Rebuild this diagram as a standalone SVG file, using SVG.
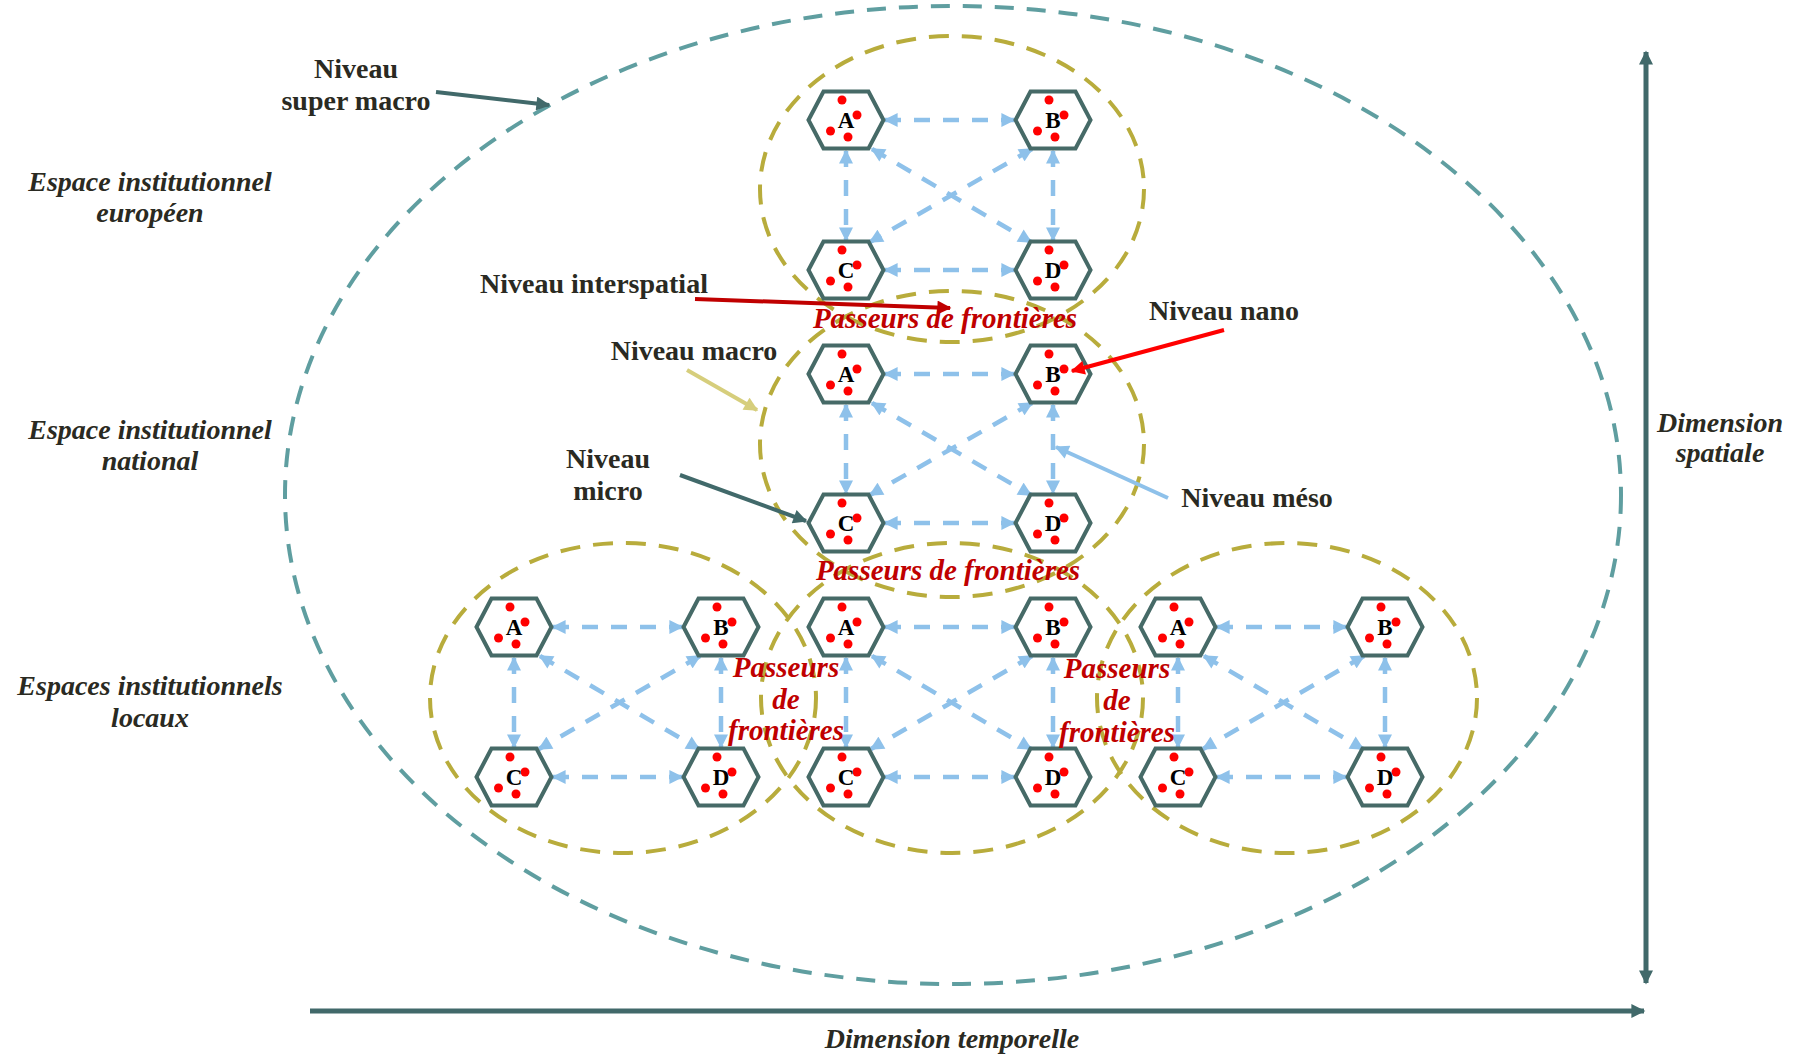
<svg xmlns="http://www.w3.org/2000/svg" xmlns:xlink="http://www.w3.org/1999/xlink" width="1800" height="1060" viewBox="0 0 1800 1060">
<style>
.lbl{font-family:"Liberation Serif","Times New Roman",serif;font-weight:bold;font-size:28px;fill:#2a2a22;text-anchor:middle}
.it{font-family:"Liberation Serif","Times New Roman",serif;font-weight:bold;font-style:italic;font-size:28px;fill:#2a2a22;text-anchor:middle}
.pf{font-family:"Liberation Serif","Times New Roman",serif;font-weight:bold;font-style:italic;font-size:29px;fill:#C00000;text-anchor:middle}
.let{font-family:"Liberation Serif","Times New Roman",serif;font-weight:bold;font-size:23px;fill:#000;text-anchor:middle}
.teal{fill:none;stroke:#5F9EA0;stroke-width:4;stroke-dasharray:19 13}
.olive{fill:none;stroke:#B8AC3C;stroke-width:4;stroke-dasharray:20 13}
.conn{fill:none;stroke:#8EC1EA;stroke-width:4.5;stroke-dasharray:16 13;marker-start:url(#ab);marker-end:url(#ab)}
.hex{fill:#fff;stroke:#466A67;stroke-width:4;stroke-linejoin:miter}
.dot{fill:#FF0000}
</style>
<defs>
<marker id="ab" viewBox="0 0 10 10" refX="9" refY="5" markerWidth="15" markerHeight="14" markerUnits="userSpaceOnUse" orient="auto-start-reverse"><path d="M0,0 L10,5 L0,10 z" fill="#8EC1EA"/></marker>
<marker id="at" viewBox="0 0 10 10" refX="9" refY="5" markerWidth="15" markerHeight="14" markerUnits="userSpaceOnUse" orient="auto-start-reverse"><path d="M0,0 L10,5 L0,10 z" fill="#41696A"/></marker>
<marker id="ar" viewBox="0 0 10 10" refX="9" refY="5" markerWidth="15" markerHeight="14" markerUnits="userSpaceOnUse" orient="auto"><path d="M0,0 L10,5 L0,10 z" fill="#C00000"/></marker>
<marker id="arr" viewBox="0 0 10 10" refX="9" refY="5" markerWidth="15" markerHeight="14" markerUnits="userSpaceOnUse" orient="auto"><path d="M0,0 L10,5 L0,10 z" fill="#FF0000"/></marker>
<marker id="abl" viewBox="0 0 10 10" refX="9" refY="5" markerWidth="15" markerHeight="14" markerUnits="userSpaceOnUse" orient="auto"><path d="M0,0 L10,5 L0,10 z" fill="#8EC1EA"/></marker>
<marker id="ay" viewBox="0 0 10 10" refX="9" refY="5" markerWidth="15" markerHeight="14" markerUnits="userSpaceOnUse" orient="auto"><path d="M0,0 L10,5 L0,10 z" fill="#D6CE7C"/></marker>
<g id="hx">
<polygon class="hex" points="-37.5,0 -22.5,-28.5 22.5,-28.5 37.5,0 22.5,28.5 -22.5,28.5"/>
<circle class="dot" cx="-4" cy="-20" r="4.5"/>
<circle class="dot" cx="11" cy="-5" r="4.5"/>
<circle class="dot" cx="-15.5" cy="11" r="4.5"/>
<circle class="dot" cx="2" cy="17" r="4.5"/>
</g>
</defs>
<rect width="1800" height="1060" fill="#fff"/>

<g id="ellipses">
<ellipse id="super-macro" class="teal" cx="953" cy="495" rx="668" ry="489"/>
<ellipse id="macro-europe" class="olive" cx="952" cy="189" rx="192" ry="153"/>
<ellipse id="macro-national" class="olive" cx="952" cy="444" rx="192" ry="153"/>
<ellipse id="macro-local-1" class="olive" cx="623" cy="698" rx="193" ry="155"/>
<ellipse id="macro-local-2" class="olive" cx="952" cy="698" rx="191" ry="155"/>
<ellipse id="macro-local-3" class="olive" cx="1287" cy="698" rx="190" ry="155"/>
</g>

<g id="axes" fill="none" stroke="#41696A" stroke-width="5">
<path d="M310,1011 H1644" marker-end="url(#at)"/>
<path d="M1646,52 V983" marker-start="url(#at)" marker-end="url(#at)"/>
</g>

<g id="connectors">
<path class="conn" d="M885,120 H1014"/>
<path class="conn" d="M885,270 H1014"/>
<path class="conn" d="M846,151 V240"/>
<path class="conn" d="M1053,151 V240"/>
<path class="conn" d="M872,149 L1031,242"/>
<path class="conn" d="M1032,149 L870,242"/>

<path class="conn" d="M885,374 H1014"/>
<path class="conn" d="M885,523 H1014"/>
<path class="conn" d="M846,405 V493"/>
<path class="conn" d="M1053,405 V493"/>
<path class="conn" d="M872,403 L1031,495"/>
<path class="conn" d="M1032,403 L870,495"/>

<path class="conn" d="M553,627 H682"/>
<path class="conn" d="M553,777 H682"/>
<path class="conn" d="M514,658 V747"/>
<path class="conn" d="M721,658 V747"/>
<path class="conn" d="M540,656 L699,749"/>
<path class="conn" d="M700,656 L539,749"/>

<path class="conn" d="M885,627 H1014"/>
<path class="conn" d="M885,777 H1014"/>
<path class="conn" d="M846,658 V747"/>
<path class="conn" d="M1053,658 V747"/>
<path class="conn" d="M872,656 L1031,749"/>
<path class="conn" d="M1032,656 L871,749"/>

<path class="conn" d="M1217,627 H1346"/>
<path class="conn" d="M1217,777 H1346"/>
<path class="conn" d="M1178,658 V747"/>
<path class="conn" d="M1385,658 V747"/>
<path class="conn" d="M1204,656 L1363,749"/>
<path class="conn" d="M1364,656 L1203,749"/>
</g>

<g id="eu-A" transform="translate(846,120)"><use xlink:href="#hx"/><text class="let" x="0" y="8">A</text></g>
<g id="eu-B" transform="translate(1053,120)"><use xlink:href="#hx"/><text class="let" x="0" y="8">B</text></g>
<g id="eu-C" transform="translate(846,270)"><use xlink:href="#hx"/><text class="let" x="0" y="8">C</text></g>
<g id="eu-D" transform="translate(1053,270)"><use xlink:href="#hx"/><text class="let" x="0" y="8">D</text></g>

<g id="nat-A" transform="translate(846,374)"><use xlink:href="#hx"/><text class="let" x="0" y="8">A</text></g>
<g id="nat-B" transform="translate(1053,374)"><use xlink:href="#hx"/><text class="let" x="0" y="8">B</text></g>
<g id="nat-C" transform="translate(846,523)"><use xlink:href="#hx"/><text class="let" x="0" y="8">C</text></g>
<g id="nat-D" transform="translate(1053,523)"><use xlink:href="#hx"/><text class="let" x="0" y="8">D</text></g>

<g id="loc1-A" transform="translate(514,627)"><use xlink:href="#hx"/><text class="let" x="0" y="8">A</text></g>
<g id="loc1-B" transform="translate(721,627)"><use xlink:href="#hx"/><text class="let" x="0" y="8">B</text></g>
<g id="loc1-C" transform="translate(514,777)"><use xlink:href="#hx"/><text class="let" x="0" y="8">C</text></g>
<g id="loc1-D" transform="translate(721,777)"><use xlink:href="#hx"/><text class="let" x="0" y="8">D</text></g>

<g id="loc2-A" transform="translate(846,627)"><use xlink:href="#hx"/><text class="let" x="0" y="8">A</text></g>
<g id="loc2-B" transform="translate(1053,627)"><use xlink:href="#hx"/><text class="let" x="0" y="8">B</text></g>
<g id="loc2-C" transform="translate(846,777)"><use xlink:href="#hx"/><text class="let" x="0" y="8">C</text></g>
<g id="loc2-D" transform="translate(1053,777)"><use xlink:href="#hx"/><text class="let" x="0" y="8">D</text></g>

<g id="loc3-A" transform="translate(1178,627)"><use xlink:href="#hx"/><text class="let" x="0" y="8">A</text></g>
<g id="loc3-B" transform="translate(1385,627)"><use xlink:href="#hx"/><text class="let" x="0" y="8">B</text></g>
<g id="loc3-C" transform="translate(1178,777)"><use xlink:href="#hx"/><text class="let" x="0" y="8">C</text></g>
<g id="loc3-D" transform="translate(1385,777)"><use xlink:href="#hx"/><text class="let" x="0" y="8">D</text></g>

<g id="passeurs">
<text class="pf" x="945" y="328">Passeurs de frontières</text>
<text class="pf" x="948" y="580">Passeurs de frontières</text>
<text class="pf" x="786" y="677">Passeurs</text>
<text class="pf" x="786" y="709">de</text>
<text class="pf" x="786" y="740">frontières</text>
<text class="pf" x="1117" y="678">Passeurs</text>
<text class="pf" x="1117" y="710">de</text>
<text class="pf" x="1117" y="742">frontières</text>
</g>

<g id="label-arrows" fill="none" stroke-width="4">
<path d="M436,92 L549,105" stroke="#41696A" marker-end="url(#at)"/>
<path d="M695,299 L950,308" stroke="#C00000" marker-end="url(#ar)"/>
<path d="M1224,330 L1072,371" stroke="#FF0000" marker-end="url(#arr)"/>
<path d="M1168,498 L1056,447" stroke="#8EC1EA" marker-end="url(#abl)"/>
<path d="M687,370 L757,410" stroke="#D6CE7C" marker-end="url(#ay)"/>
<path d="M680,475 L806,521" stroke="#41696A" marker-end="url(#at)"/>
</g>

<g id="labels">
<text class="lbl" x="356" y="78">Niveau</text>
<text class="lbl" x="356" y="110">super macro</text>
<text class="lbl" x="594" y="293">Niveau interspatial</text>
<text class="lbl" x="694" y="360">Niveau macro</text>
<text class="lbl" x="608" y="468">Niveau</text>
<text class="lbl" x="608" y="500">micro</text>
<text class="lbl" x="1224" y="320">Niveau nano</text>
<text class="lbl" x="1257" y="507">Niveau méso</text>
<text class="it" x="150" y="191">Espace institutionnel</text>
<text class="it" x="150" y="222">européen</text>
<text class="it" x="150" y="439">Espace institutionnel</text>
<text class="it" x="150" y="470">national</text>
<text class="it" x="150" y="695">Espaces institutionnels</text>
<text class="it" x="150" y="727">locaux</text>
<text class="it" x="1720" y="432">Dimension</text>
<text class="it" x="1720" y="462">spatiale</text>
<text class="it" x="952" y="1048">Dimension temporelle</text>
</g>
</svg>
